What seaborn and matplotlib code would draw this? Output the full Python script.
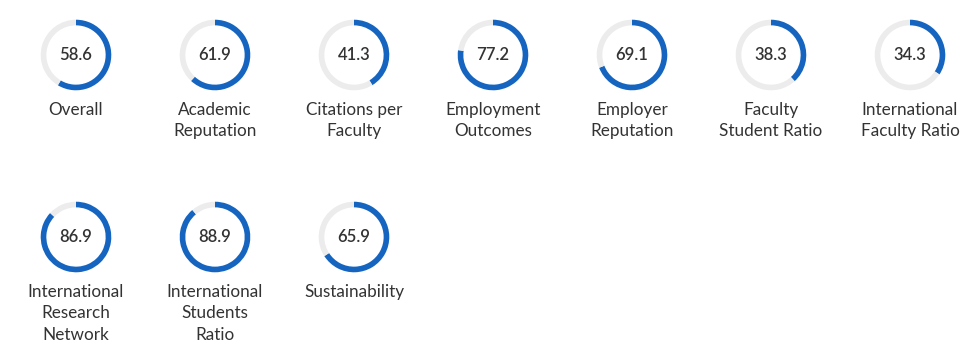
import matplotlib
matplotlib.use("Agg")
import matplotlib.pyplot as plt
import seaborn as sns

labels = ["Overall", "Academic\nReputation", "Citations per\nFaculty", "Employment\nOutcomes",
          "Employer\nReputation", "Faculty\nStudent Ratio", "International\nFaculty Ratio",
          "International\nResearch\nNetwork", "International\nStudents\nRatio", "Sustainability"]
values = [58.6, 61.9, 41.3, 77.2, 69.1, 38.3, 34.3, 86.9, 88.9, 65.9]
value_texts = ["58.6", "61.9", "41.3", "77.2", "69.1", "38.3", "34.3", "86.9", "88.9", "65.9"]

sns.set_theme(style="white")
plt.rcParams['font.family'] = ['Lato', 'DejaVu Sans']

W, H = 979, 357
fig = plt.figure(figsize=(W / 100, H / 100), dpi=100)
fig.patch.set_facecolor("white")

BLUE = "#1565c0"
GREY = "#ececec"
TXT = "#333333"

ncols = 7
x0, dx = 76, 139
row_cy = [55, 237]
row_label_y = [108, 290]
R = 36

for i, (lab, v, vt) in enumerate(zip(labels, values, value_texts)):
    r, c = divmod(i, ncols)
    cx = x0 + c * dx
    cy = row_cy[r]
    ax = fig.add_axes([(cx - R) / W, 1 - (cy + R) / H, 2 * R / W, 2 * R / H])
    ax.pie([v, 100 - v], colors=[BLUE, GREY], startangle=90, counterclock=False,
           radius=1.0, wedgeprops=dict(width=0.16, edgecolor="none"))
    ax.set_aspect("equal")
    ax.set_xlim(-1.02, 1.02)
    ax.set_ylim(-1.02, 1.02)
    ax.axis("off")
    ax.text(0, 0, vt, ha="center", va="center", fontsize=12, fontweight="semibold", color=TXT)
    fig.text(cx / W, 1 - (row_label_y[r] - 6) / H, lab, ha="center", va="top",
             fontsize=12.3, color=TXT, linespacing=1.42)

fig.savefig("out.png", dpi=100, facecolor="white")
